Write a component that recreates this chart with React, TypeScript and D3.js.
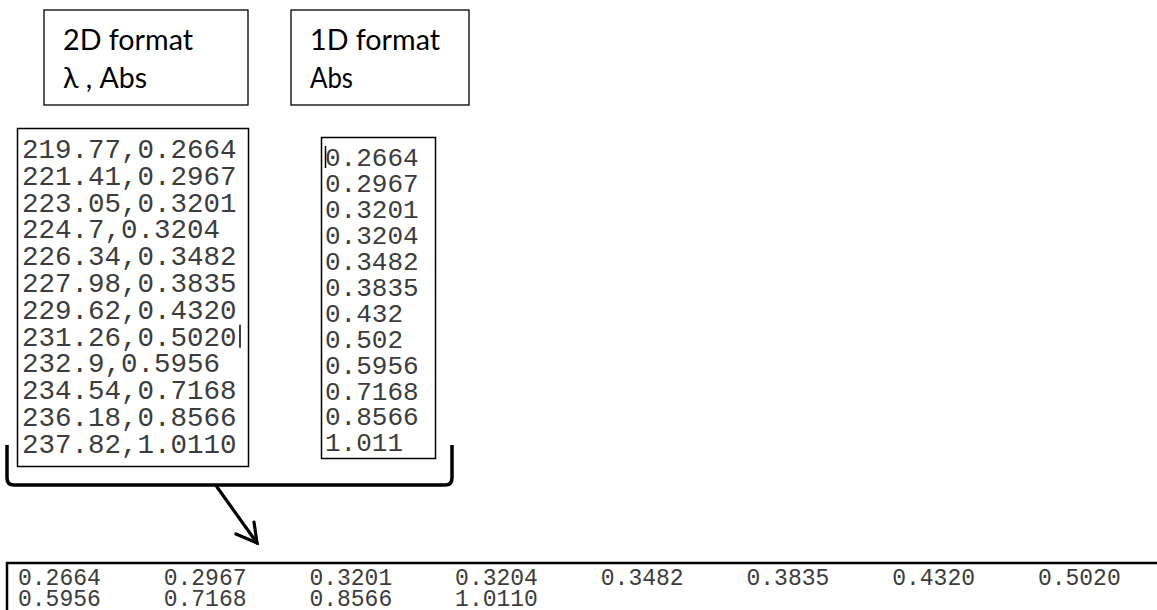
import React from "react";
import * as d3 from "d3";

// ---- data ----
const wavelengths: string[] = ["219.77","221.41","223.05","224.7","226.34","227.98","229.62","231.26","232.9","234.54","236.18","237.82"];
const absorbance: number[] = [0.2664,0.2967,0.3201,0.3204,0.3482,0.3835,0.4320,0.5020,0.5956,0.7168,0.8566,1.0110];
const headerBoxes = [
  { lines: ["2D format", "λ , Abs"] },
  { lines: ["1D format", "Abs"] },
];
const perRow = 8;

const W = 1157, H = 610;

export default function App() {
  // header box scale
  const headerX = d3.scaleOrdinal<number, number>().domain([0, 1]).range([44, 291]);
  const headerW = [204, 178];
  const headerTextW = [[130, 84], [130, 43]];

  // 2D listing rows
  const row2D = d3.scaleLinear().domain([0, absorbance.length - 1]).range([148, 443]);
  const row1D = d3.scaleLinear().domain([0, absorbance.length - 1]).range([157, 442]);

  // bottom row-major listing
  const colX = d3.scaleLinear().domain([0, perRow - 1]).range([18, 18 + 7 * 145.7]);
  const rowY = d3.scaleLinear().domain([0, 1]).range([577, 598]);

  const fmt2D = (v: number) => v.toFixed(4);
  const fmt1D = (v: number) => String(v);

  const textCol = "#3c3c3c";
  const mono = "'Liberation Mono', 'DejaVu Sans Mono', monospace";

  return (
    <svg width={W} height={H} style={{ position: "absolute", left: 0, top: 0, background: "#fff" }}>
      {/* header boxes */}
      {headerBoxes.map((b, i) => (
        <g key={i}>
          <rect x={headerX(i)} y={10} width={headerW[i]} height={95} fill="#fff" stroke="#000" strokeWidth={1.3} />
          {b.lines.map((t, j) => (
            <text key={j} x={headerX(i) + 19} y={50 + j * 38} fontFamily="Lato, 'Open Sans', sans-serif" fontSize={29}
              fill="#000" textLength={headerTextW[i][j]} lengthAdjust="spacingAndGlyphs">{t}</text>
          ))}
        </g>
      ))}

      {/* 2D listing */}
      <rect x={17.5} y={128.5} width={231} height={338} fill="#fff" stroke="#000" strokeWidth={1.5} />
      {absorbance.map((v, i) => (
        <text key={i} x={22} y={row2D(i)} dy="0.36em" fontFamily={mono} fontSize={27.5} fill={textCol}>
          {wavelengths[i]},{fmt2D(v)}
        </text>
      ))}
      <line x1={240} x2={240} y1={row2D(7) - 11} y2={row2D(7) + 12} stroke="#000" strokeWidth={1.5} />

      {/* 1D listing */}
      <rect x={321.5} y={137.5} width={114} height={321} fill="#fff" stroke="#000" strokeWidth={1.5} />
      {absorbance.map((v, i) => (
        <text key={i} x={325} y={row1D(i)} dy="0.36em" fontFamily={mono} fontSize={26} fill={textCol}>
          {fmt1D(v)}
        </text>
      ))}
      <line x1={325.5} x2={325.5} y1={row1D(0) - 11} y2={row1D(0) + 11} stroke="#000" strokeWidth={1.5} />

      {/* bracket */}
      <path d="M7,445 L7,478 Q7,485 14,485 L445,485 Q452,485 452,478 L452,445" fill="none" stroke="#000" strokeWidth={3.5} />

      {/* arrow */}
      <g stroke="#000" strokeWidth={3.2} fill="none" strokeLinecap="round">
        <line x1={217} y1={487} x2={257} y2={543} />
        <polyline points="236,534 257,543 254,522" />
      </g>

      {/* bottom listing */}
      <rect x={7} y={563} width={W} height={60} fill="#fff" stroke="#000" strokeWidth={2.5} />
      {absorbance.map((v, i) => (
        <text key={i} x={colX(i % perRow)} y={rowY(Math.floor(i / perRow))} dy="0.36em"
          fontFamily={mono} fontSize={23} fill={textCol}>
          {fmt2D(v)}
        </text>
      ))}
    </svg>
  );
}
